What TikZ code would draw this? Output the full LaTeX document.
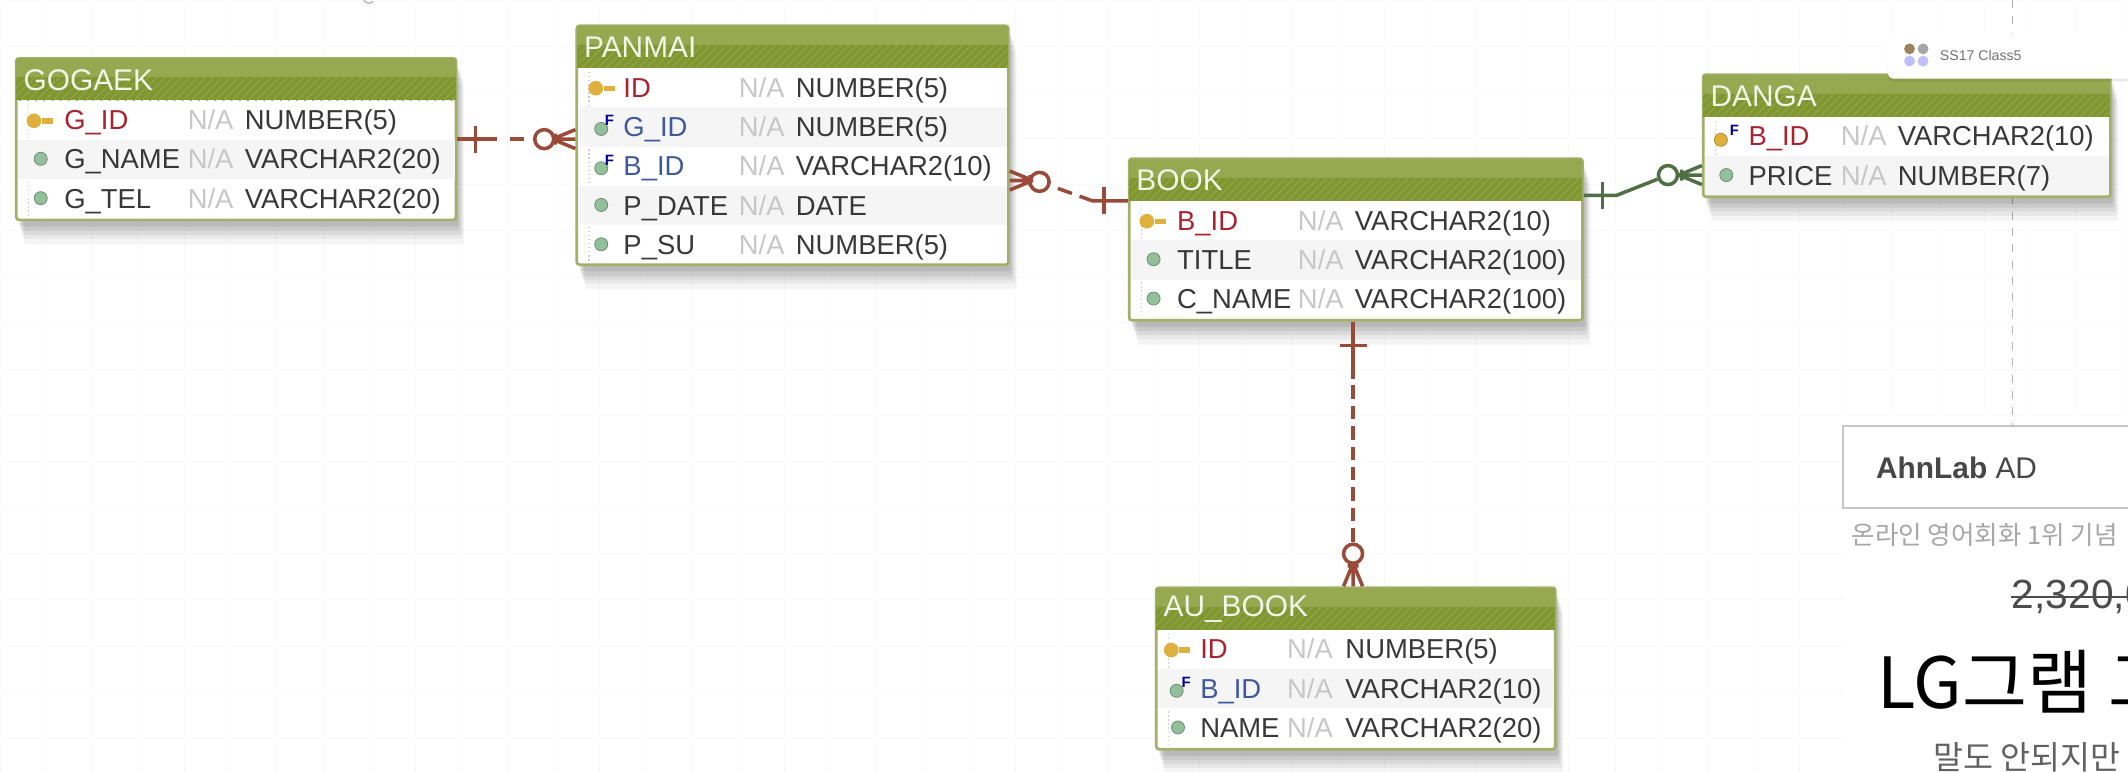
\documentclass[tikz,border=0pt]{standalone}
\usepackage{fontspec}
\setmainfont{Liberation Sans}
\newfontfamily\krfont{Noto Sans CJK KR}
\usetikzlibrary{fit,patterns,shadows}
\definecolor{olive}{HTML}{7F9631}
\definecolor{olivetop}{HTML}{96A950}
\definecolor{olivehatch}{HTML}{90A646}
\definecolor{frameline}{HTML}{A3B06A}
\definecolor{relred}{HTML}{9A4A38}
\definecolor{relgreen}{HTML}{4F6F45}
\definecolor{keygold}{HTML}{DDB13C}
\definecolor{dotgreen}{HTML}{94BF9B}
\definecolor{pkred}{HTML}{A8232F}
\definecolor{fkblue}{HTML}{3F5A9C}
% table frame with its title bar
\newcommand{\tblbox}[7]{%
	\node[tbl, fit={(#2,#3)(#4,#5)}] (#1) {};
	\fill[olivetop] (#2,#3) rectangle (#4,#6);
	\fill[olive] (#2,#3+14) rectangle (#4,#6);
	\fill[pattern=north east lines, pattern color=olivehatch] (#2,#3+14) rectangle (#4,#6);
	\draw[gutter] (#2+9,#6+3) -- (#2+9,#5-3);
	\node[hdr] (#1-title) at (#2+5,#3+16) {#7};
}
% one column: name, N/A, type
\newcommand{\colrow}[8]{%
	\node[#6] (#1-n) at (#3,#2) {#7};
	\node[natxt] (#1-a) at (#4,#2) {N/A};
	\node[typetxt] (#1-t) at (#5,#2) {#8};
}
\begin{document}
\begin{tikzpicture}[
		x=0.5pt, y=-0.5pt,
		tbl/.style     = {draw=frameline, line width=1pt, fill=white, inner sep=0pt, rounded corners=1pt,
			general shadow={fill=black, opacity=.04, shadow xshift=3pt, shadow yshift=-9pt},
			general shadow={fill=black, opacity=.05, shadow xshift=2.5pt, shadow yshift=-7pt},
			general shadow={fill=black, opacity=.06, shadow xshift=2pt, shadow yshift=-5.5pt},
			general shadow={fill=black, opacity=.07, shadow xshift=1.5pt, shadow yshift=-4pt},
			general shadow={fill=black, opacity=.08, shadow xshift=1pt, shadow yshift=-2.5pt}},
		hdr/.style     = {anchor=west, inner sep=0pt, text=white!90!olive, font=\fontsize{11}{13}\selectfont},
		gutter/.style  = {densely dotted, gray!40, line width=.5pt},
		altrow/.style  = {fill=gray!8},
		nmtxt/.style   = {anchor=west, inner sep=0pt, yshift=-1pt, text height=7.5pt, text depth=2pt, text=black!78, font=\fontsize{10.1}{12}\selectfont},
		pktxt/.style   = {nmtxt, text=pkred},
		fktxt/.style   = {nmtxt, text=fkblue},
		natxt/.style   = {nmtxt, text=black!22},
		typetxt/.style = {nmtxt},
		dot/.style     = {circle, fill=dotgreen, draw=dotgreen!75!black, line width=.3pt, inner sep=0pt, minimum size=4.8pt},
		fkmark/.style  = {inner sep=0pt, text=blue!60!black, font=\bfseries\fontsize{5.5}{6}\selectfont},
		keybow/.style  = {circle, fill=keygold, inner sep=0pt, minimum size=5.4pt},
		keyshaft/.style= {keygold, line width=2pt},
		rel/.style     = {relred, line width=1.3pt},
		relok/.style   = {relgreen, line width=1.3pt},
		barmark/.style = {fill, sloped, inner sep=0pt, minimum width=1.3pt, minimum height=10pt},
		opt/.style     = {circle, fill=white, line width=1.3pt, inner sep=0pt, minimum size=7pt},
		crow/.pic      = {\draw[line width=1.3pt, pic actions] (-17,0) -- (0,0) (-17,0) -- (0,-7) (-17,0) -- (0,7) (-15,-4) -- (-15,4);},
		adline/.style  = {draw=gray!45, line width=.8pt},
		]
	\useasboundingbox (0,0) rectangle (1568,568.8);
	\clip (0,0) rectangle (1568,568.8);
	
	% Backdrop
	\fill[white] (0,0) rectangle (1568,568.8);
	\draw[black!2.5, line width=.35pt, step=17pt] (0,0) grid (1568,306);
	\draw[black!2.5, line width=.35pt, step=17pt] (0,306) grid (1358,568.8);
	\draw[gray!70, line width=.4pt] (268,0) .. controls (270,3) and (273,3) .. (275,1);
	\coordinate (pagedash) at (1483,0);
	\node[adline, fit={(1358,314)(1600,374)}, inner sep=0pt] (adbox) {};
	\draw[gray!60, line width=.5pt, dashed] (pagedash) -- (pagedash |- adbox.north);
	
	% GOGAEK
	\tblbox{gogaek}{12}{43}{336}{162}{74}{GOGAEK}
	\fill[altrow] (13,103) rectangle (335,132);
	\node[keybow] (gogaek1-i) at (25,89) {};
	\draw[keyshaft] (gogaek1-i) -- ++(14,0);
	\colrow{gogaek1}{88}{47}{138}{180}{pktxt}{G\_ID}{NUMBER(5)}
	\node[dot] (gogaek2-i) at (30,117) {};
	\colrow{gogaek2}{117}{47}{138}{180}{nmtxt}{G\_NAME}{VARCHAR2(20)}
	\node[dot] (gogaek3-i) at (30,146) {};
	\colrow{gogaek3}{146}{47}{138}{180}{nmtxt}{G\_TEL}{VARCHAR2(20)}
	
	% PANMAI
	\tblbox{panmai}{425}{19}{743}{195}{50}{PANMAI}
	\fill[altrow] (426,79) rectangle (742,108);
	\fill[altrow] (426,137) rectangle (742,166);
	\node[keybow] (panmai1-i) at (439,65) {};
	\draw[keyshaft] (panmai1-i) -- ++(14,0);
	\colrow{panmai1}{64}{459}{544}{586}{pktxt}{ID}{NUMBER(5)}
	\node[dot] (panmai2-i) at (443,95) {};
	\node[fkmark] (panmai2-f) at (449,89) {F};
	\colrow{panmai2}{93}{459}{544}{586}{fktxt}{G\_ID}{NUMBER(5)}
	\node[dot] (panmai3-i) at (443,124) {};
	\node[fkmark] (panmai3-f) at (449,118) {F};
	\colrow{panmai3}{122}{459}{544}{586}{fktxt}{B\_ID}{VARCHAR2(10)}
	\node[dot] (panmai4-i) at (443,151) {};
	\colrow{panmai4}{151}{459}{544}{586}{nmtxt}{P\_DATE}{DATE}
	\node[dot] (panmai5-i) at (443,180) {};
	\colrow{panmai5}{180}{459}{544}{586}{nmtxt}{P\_SU}{NUMBER(5)}
	
	% BOOK
	\tblbox{book}{832}{117}{1166}{236}{148}{BOOK}
	\fill[altrow] (833,177) rectangle (1165,206);
	\node[keybow] (book1-i) at (845,163) {};
	\draw[keyshaft] (book1-i) -- ++(14,0);
	\colrow{book1}{162}{867}{956}{998}{pktxt}{B\_ID}{VARCHAR2(10)}
	\node[dot] (book2-i) at (850,191) {};
	\colrow{book2}{191}{867}{956}{998}{nmtxt}{TITLE}{VARCHAR2(100)}
	\node[dot] (book3-i) at (850,220) {};
	\colrow{book3}{220}{867}{956}{998}{nmtxt}{C\_NAME}{VARCHAR2(100)}
	
	% DANGA
	\tblbox{danga}{1255}{55}{1555}{145}{86}{DANGA}
	\fill[altrow] (1256,115) rectangle (1554,144);
	\node[dot, fill=keygold, draw=keygold!80!black] (danga1-i) at (1268,103) {};
	\node[fkmark] (danga1-f) at (1278,96) {F};
	\colrow{danga1}{100}{1288}{1356}{1398}{pktxt}{B\_ID}{VARCHAR2(10)}
	\node[dot] (danga2-i) at (1272,129) {};
	\colrow{danga2}{129}{1288}{1356}{1398}{nmtxt}{PRICE}{NUMBER(7)}
	
	% AU_BOOK
	\tblbox{aubook}{852}{433}{1146}{552}{464}{AU\_BOOK}
	\fill[altrow] (853,493) rectangle (1145,522);
	\node[keybow] (aubook1-i) at (863,479) {};
	\draw[keyshaft] (aubook1-i) -- ++(14,0);
	\colrow{aubook1}{478}{884}{948}{991}{pktxt}{ID}{NUMBER(5)}
	\node[dot] (aubook2-i) at (867,509) {};
	\node[fkmark] (aubook2-f) at (874,503) {F};
	\colrow{aubook2}{507}{884}{948}{991}{fktxt}{B\_ID}{VARCHAR2(10)}
	\node[dot] (aubook3-i) at (868,536) {};
	\colrow{aubook3}{536}{884}{948}{991}{nmtxt}{NAME}{VARCHAR2(20)}
	
	% Relations
	\node[opt, draw=relred] (gp-opt) at (401,102.5) {};
	\draw[rel, dash pattern=on 14.5pt off 5pt on 5pt off 3.5pt on 9pt] (gogaek.east) -- node[barmark, pos=.24] (gp-bar) {} (gp-opt);
	\pic[relred] (gp-foot) at (gp-opt -| panmai.west) {crow};
	
	\node[opt, draw=relred] (pb-opt) at (766,134) {};
	\coordinate (pb-knee) at (805,148);
	\draw[rel, dash pattern=on 0pt off 3pt on 5.5pt off 3pt on 40pt] (pb-opt) -- (pb-knee) -- node[barmark, pos=.33] (pb-bar) {} ([yshift=14.25pt]book.west);
	\pic[relred, rotate=180] (pb-foot) at ([yshift=-13pt]panmai.east) {crow};
	
	\node[opt, draw=relgreen] (bd-opt) at (1229,129) {};
	\draw[relok] ([yshift=16.25pt]book.east) -- node[barmark, pos=.58] (bd-bar) {} ++(24,0) -- (bd-opt);
	\pic[relgreen] (bd-foot) at ([yshift=-14.5pt]danga.west) {crow};
	
	\coordinate (ba-mid) at (997,269);
	\node[opt, draw=relred] (ba-opt) at (997,408) {};
	\draw[rel] (ba-mid |- book.south) -- node[barmark, pos=.55] (ba-bar) {} (ba-mid);
	\draw[rel, dash pattern=on 5pt off 2.5pt] (ba-mid) -- (ba-opt);
	\pic[relred, rotate=-90] (ba-foot) at (ba-opt |- aubook.north) {crow};
	
	% Window chip
	\node[fill=white, rounded corners=2pt, inner sep=0pt, fit={(1391,25)(1600,58)},
		general shadow={fill=black, opacity=.08, shadow xshift=0pt, shadow yshift=-1pt}] (chip) {};
	\node[circle, fill=brown!50!gray, inner sep=0pt, minimum size=4pt] (chip-a) at (1407,36) {};
	\node[circle, fill=gray!70, inner sep=0pt, minimum size=4pt] (chip-b) at (1417,36) {};
	\node[circle, fill=blue!25, inner sep=0pt, minimum size=4pt] (chip-c) at (1407,45) {};
	\node[circle, fill=blue!25, inner sep=0pt, minimum size=4pt] (chip-d) at (1417,45) {};
	\node[anchor=west, inner sep=0pt, text=black!55, font=\fontsize{5.2}{6}\selectfont] (chip-txt) at (1429,41) {SS17 Class5};
	
	% Ad column
	\node[anchor=west, inner sep=0pt, text=black!72, font=\fontsize{11}{13}\selectfont] (ad-name) at (1382,345) {\textbf{AhnLab} AD};
	\node[anchor=west, inner sep=0pt, text=black!35, font=\krfont\fontsize{9.4}{11}\selectfont] (ad-line) at (1364,394) {온라인 영어회화 1위 기념};
	\node[anchor=west, inner sep=0pt, text=black!70, font=\fontsize{15}{17}\selectfont] (ad-price) at (1482,440) {2,320,0};
	\draw[black!70, line width=.6pt] (ad-price.west) -- (ad-price.east);
	\node[anchor=west, inner sep=0pt, text=black, font=\krfont\fontsize{26}{30}\selectfont] (ad-title) at (1383,502) {LG그램 그};
	\node[anchor=west, inner sep=0pt, text=black!62, font=\krfont\fontsize{12}{14}\selectfont] (ad-sub) at (1424,558) {말도 안되지만};
\end{tikzpicture}
\end{document}
